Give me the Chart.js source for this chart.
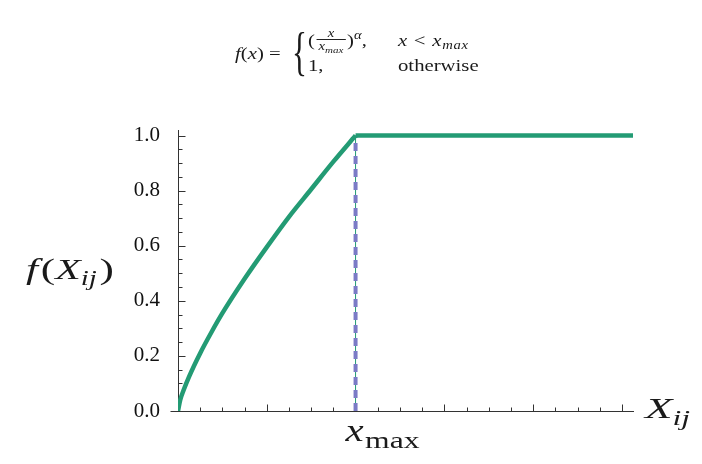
<!DOCTYPE html>
<html lang="en">
<head>
    <meta charset="UTF-8">
    <title>GloVe weighting function</title>
    <script src="https://cdn.jsdelivr.net/npm/chart.js"></script>
    <style>
        body { margin: 0; background: #fff; }
        #wrap { position: relative; width: 702px; height: 464px; }
        #chart { position: absolute; left: 0; top: 0; }
        .f { position: absolute; font-family: 'Liberation Serif', serif; font-size: 17px; color: #1a1a1a; white-space: nowrap; line-height: 1; transform: scaleX(1.22); transform-origin: left top; }
        .i { font-style: italic; }
        .sub { font-size: 12px; font-style: italic; position: relative; top: 3px; }
        .frac { display: inline-block; vertical-align: middle; text-align: center; font-size: 12px; font-style: italic; margin: 0 1px; }
        .frac span { display: block; line-height: 12px; padding: 0 2px; }
        .frac .den { border-top: 1px solid #222; }
    </style>
</head>
<body>
<div id="wrap">
    <canvas id="chart" width="702" height="464"></canvas>
    <!-- formula -->
    <div class="f" style="left:235px; top:45px;"><span class="i">f</span>(<span class="i">x</span>)&nbsp;=</div>
    <div class="f" style="left:292px; top:26px; font-size:52px; transform:scaleX(0.6);">{</div>
    <div class="f" style="left:308px; top:27px;">(<span class="frac"><span>x</span><span class="den">x<sub style="font-size:9px">max</sub></span></span>)<sup style="font-size:12px" class="i">α</sup>,</div>
    <div class="f" style="left:398px; top:32px; letter-spacing:0.6px;"><span class="i">x</span> &lt; <span class="i">x</span><span class="sub">max</span></div>
    <div class="f" style="left:308px; top:57px;">1,</div>
    <div class="f" style="left:398px; top:57px;">otherwise</div>
</div>
<script>
    // valores
    const xRise = [0, 0.1, 0.25, 0.5, 1, 1.5, 2, 3, 4, 5, 6, 7, 8];
    const fRise = [0, 0.04, 0.075, 0.125, 0.21, 0.285, 0.355, 0.48, 0.595, 0.705, 0.805, 0.905, 1.0];
    const xFlat = [8, 20.5];
    const fFlat = [1.0, 1.0];
    const xmax = 8;
    const xmaxLineY = [0, 1];

    const xTickValues = [0,1,2,3,4,5,6,7,8,9,10,11,12,13,14,15,16,17,18,19,20];
    const xMajorTicks = [0, 4, 8, 12, 16, 20];
    const yTickValues = [0,0.05,0.1,0.15,0.2,0.25,0.3,0.35,0.4,0.45,0.5,0.55,0.6,0.65,0.7,0.75,0.8,0.85,0.9,0.95,1.0];
    const yMajorTicks = [0, 0.2, 0.4, 0.6, 0.8, 1.0];
    const yTickLabels = ['0.0', '0.2', '0.4', '0.6', '0.8', '1.0'];

    const green = '#239b74';
    const purple = '#7b7bc6';
    const axisColor = '#333';

    const toPts = (xs, ys) => xs.map((x, i) => ({x: x, y: ys[i]}));
    const vline = xmaxLineY.map(y => ({x: xmax, y: y}));

    const isMajor = (v, list) => list.some(m => Math.abs(m - v) < 1e-6);

    // texto estirado horizontalmente, por piezas
    function drawPieces(ctx, pieces, x, y, targetWidth) {
        let total = 0;
        pieces.forEach(p => { ctx.font = p.font; total += ctx.measureText(p.t).width + (p.gap || 0); });
        const sx = targetWidth / total;
        ctx.save();
        ctx.translate(x, y);
        ctx.scale(sx, 1);
        let cx = 0;
        pieces.forEach(p => {
            ctx.font = p.font;
            ctx.fillText(p.t, cx, p.dy || 0);
            cx += ctx.measureText(p.t).width + (p.gap || 0);
        });
        ctx.restore();
    }

    const LS = '"Liberation Serif"';

    const axisExtras = {
        id: 'axisExtras',
        beforeDatasetsDraw(chart) {
            const {ctx, scales: {x, y}} = chart;
            ctx.save();
            ctx.strokeStyle = axisColor;
            ctx.lineWidth = 1;
            const y0 = Math.round(y.getPixelForValue(0)) + 0.5;
            const x0 = Math.round(x.getPixelForValue(0)) + 0.5;
            ctx.beginPath();
            xTickValues.forEach(v => {
                if (v === 0) return;
                const px = Math.round(x.getPixelForValue(v)) + 0.5;
                const len = isMajor(v, xMajorTicks) ? 7 : 4;
                ctx.moveTo(px, y0);
                ctx.lineTo(px, y0 - len);
            });
            yTickValues.forEach(v => {
                if (v === 0) return;
                const py = Math.round(y.getPixelForValue(v)) + 0.5;
                const len = isMajor(v, yMajorTicks) ? 7 : 4;
                ctx.moveTo(x0, py);
                ctx.lineTo(x0 + len, py);
            });
            ctx.moveTo(x0 - 8, y0);
            ctx.lineTo(x0, y0);
            ctx.stroke();
            ctx.restore();
        },
        afterDraw(chart) {
            const {ctx, scales: {x}} = chart;
            ctx.save();
            ctx.fillStyle = '#1a1a1a';
            ctx.textBaseline = 'alphabetic';
            // f(X_ij)
            drawPieces(ctx, [
                {t: 'f', font: 'italic 30px ' + LS, gap: 2},
                {t: '(', font: '30px ' + LS},
                {t: 'X', font: 'italic 29px ' + LS},
                {t: 'ij', font: 'italic 20px ' + LS, dy: 6, gap: 2},
                {t: ')', font: '30px ' + LS}
            ], 26, 279, 88);
            // x_max
            const xm = x.getPixelForValue(xmax);
            drawPieces(ctx, [
                {t: 'x', font: 'italic 31px ' + LS, gap: 1},
                {t: 'max', font: '24px ' + LS, dy: 7}
            ], xm - 10, 441, 74);
            // X_ij
            drawPieces(ctx, [
                {t: 'X', font: 'italic 30px ' + LS},
                {t: 'ij', font: 'italic 21px ' + LS, dy: 7}
            ], 645, 418, 45);
            ctx.restore();
        }
    };

    new Chart(document.getElementById('chart'), {
        type: 'line',
        data: {
            datasets: [
                {
                    data: toPts(xRise, fRise),
                    borderColor: green,
                    borderWidth: 4.5,
                    pointRadius: 0,
                    cubicInterpolationMode: 'monotone',
                    borderJoinStyle: 'round',
                    fill: false,
                    order: 0
                },
                {
                    data: toPts(xFlat, fFlat),
                    borderColor: green,
                    borderWidth: 4.5,
                    pointRadius: 0,
                    tension: 0,
                    fill: false,
                    order: 0
                },
                {
                    data: vline,
                    borderColor: purple,
                    borderWidth: 4,
                    borderDash: [8, 5],
                    borderCapStyle: 'butt',
                    pointRadius: 0,
                    fill: false,
                    order: 1
                },
                {
                    data: vline,
                    borderColor: green,
                    borderWidth: 1,
                    pointRadius: 0,
                    fill: false,
                    order: 2
                }
            ]
        },
        options: {
            responsive: false,
            animation: false,
            layout: { padding: { left: 0, top: 130, right: 69, bottom: 0 } },
            plugins: { legend: { display: false }, tooltip: { enabled: false } },
            scales: {
                x: {
                    type: 'linear',
                    min: 0,
                    max: 20.5,
                    afterBuildTicks: s => { s.ticks = xTickValues.map(v => ({value: v})); },
                    afterFit: s => { s.height = 53; },
                    ticks: { display: false },
                    grid: { display: true, drawOnChartArea: false, drawTicks: false },
                    border: { display: true, color: axisColor, width: 1 }
                },
                y: {
                    min: 0,
                    max: 1.02,
                    afterBuildTicks: s => { s.ticks = yTickValues.map(v => ({value: v})); },
                    afterFit: s => { s.width = 178; },
                    ticks: {
                        autoSkip: false,
                        padding: 18,
                        color: '#111',
                        font: { family: 'Liberation Serif', size: 21 },
                        callback: v => {
                            const k = yMajorTicks.findIndex(m => Math.abs(m - v) < 1e-6);
                            return k >= 0 ? yTickLabels[k] : '';
                        }
                    },
                    grid: { display: true, drawOnChartArea: false, drawTicks: false },
                    border: { display: true, color: axisColor, width: 1 }
                }
            }
        },
        plugins: [axisExtras]
    });
</script>
</body>
</html>
